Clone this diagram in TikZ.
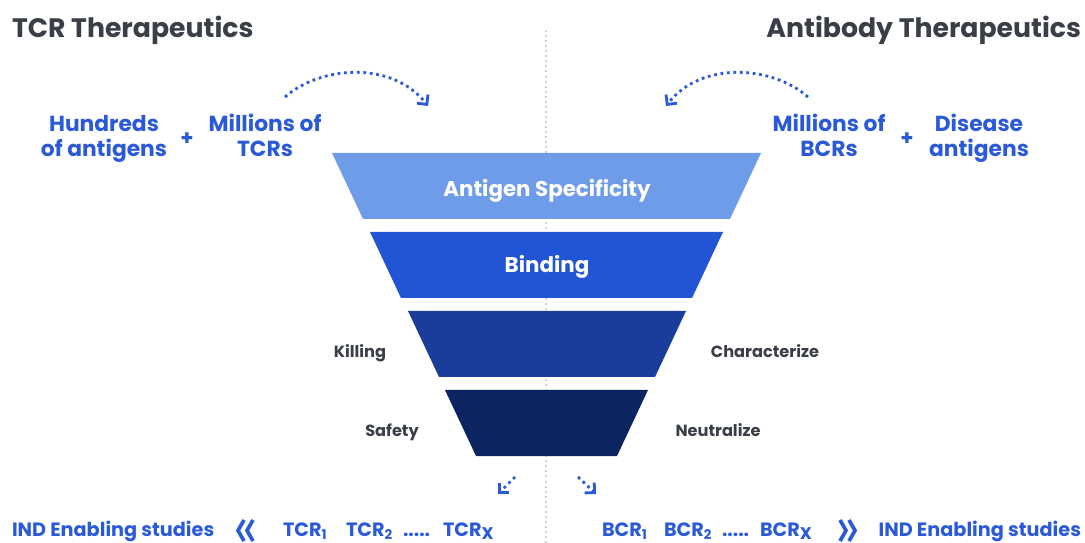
\documentclass[tikz,border=0pt]{standalone}
\usepackage{fontspec}
\setmainfont{Poppins}
\usetikzlibrary{arrows.meta}

\definecolor{ink}{HTML}{3A3E46}
\definecolor{accent}{HTML}{2A5AD8}
\definecolor{tierA}{HTML}{6E9CE8}
\definecolor{tierB}{HTML}{2254D6}
\definecolor{tierC}{HTML}{1A3D9B}
\definecolor{tierD}{HTML}{0D2462}
\definecolor{guide}{HTML}{D2D2D2}

% lowered index used in the receptor labels
\newcommand\lowidx[1]{\raisebox{-0.3ex}{\fontsize{9.5}{10}\selectfont #1}}

\begin{document}
\begin{tikzpicture}[x=0.025cm,y=-0.025cm,
  every node/.style={inner sep=0pt, outer sep=0pt},
  title/.style={font=\fontsize{19}{22}\selectfont\bfseries, text=ink, anchor=base},
  source/.style={font=\fontsize{15.5}{17.8}\selectfont\bfseries, text=accent, align=center, anchor=base},
  plus/.style={font=\fontsize{15}{18}\selectfont\bfseries, text=accent},
  stage/.style={font=\fontsize{15.2}{18}\selectfont\bfseries, text=white, anchor=base},
  side/.style={font=\fontsize{11.5}{14}\selectfont\bfseries, text=ink, anchor=base},
  foot/.style={font=\fontsize{13.7}{16}\selectfont\bfseries, text=accent, anchor=base},
  chevron/.style={accent, line width=2.6pt, miter limit=10},
  flow/.style={accent, line width=2pt, dash pattern=on 2pt off 2.6pt,
    -{Straight Barb[length=5pt, width=10pt, line width=2pt]}},
  divider/.style={guide, line width=1.4pt, dash pattern=on 1.4pt off 2.2pt},
]
\useasboundingbox (0,0) rectangle (1085,543);

% central divider, behind the funnel
\coordinate (divtop) at (546,30);
\coordinate (divbot) at (546,543);
\draw[divider] (divtop) -- (divbot);

% funnel tiers
\fill[tierA] (332,153) -- (761,153) -- (730,219) -- (363,219) -- cycle;
\fill[tierB] (370,232) -- (723,232) -- (692,298) -- (401,298) -- cycle;
\fill[tierC] (408,311) -- (686,311) -- (655,377) -- (439,377) -- cycle;
\fill[tierD] (445,390) -- (648,390) -- (617,456) -- (476,456) -- cycle;

\node[stage] (spec) at (547,197) {Antigen Specificity};
\node[stage] (bind) at (547,273) {Binding};

% side labels
\node[side] (kill) at (360,358) {Killing};
\node[side] (safe) at (392,436) {Safety};
\node[side] (char) at (765,358) {Characterize};
\node[side] (neut) at (718,436) {Neutralize};

% headings
\node[title, anchor=base west] (tcrhead) at (12,38) {TCR Therapeutics};
\node[title, anchor=base east] (abhead) at (1081,38) {Antibody Therapeutics};

% inputs (base anchor sits on the second line)
\node[source] (hundreds) at (104,157) {Hundreds\\of antigens};
\node[plus] (plusL) at (187,139) {+};
\node[source] (mtcr) at (265,157) {Millions of\\TCRs};
\node[source] (mbcr) at (829,157) {Millions of\\BCRs};
\node[plus] (plusR) at (907,139) {+};
\node[source] (disease) at (979,157) {Disease\\antigens};

% curved arrows into the funnel
\coordinate (la0) at (285,97);
\coordinate (la1) at (428,106);
\coordinate (ra0) at (808,97);
\coordinate (ra1) at (666,106);
\draw[flow] (la0) .. controls (320,66) and (392,60) .. (la1);
\draw[flow] (ra0) .. controls (773,66) and (702,60) .. (ra1);

% arrows out of the funnel
\coordinate (ol0) at (515,477);
\coordinate (ol1) at (498,494);
\coordinate (or0) at (578,477);
\coordinate (or1) at (596,494);
\draw[flow] (ol0) -- (ol1);
\draw[flow] (or0) -- (or1);

% bottom row, left
\node[foot, anchor=base west] (indL) at (12,536) {IND Enabling studies};
\draw[chevron] (244,520) -- (238,530.5) -- (244,541);
\draw[chevron] (253,520) -- (247,530.5) -- (253,541);
\node[foot, anchor=base west] (t1) at (283,536) {TCR\lowidx{1}};
\node[foot, anchor=base west] (t2) at (346,536) {TCR\lowidx{2}};
\node[foot, anchor=base west] (tdots) at (403,536) {.....};
\node[foot, anchor=base west] (tx) at (443,536) {TCR\lowidx{\fontsize{12}{12}\selectfont X}};

% bottom row, right
\node[foot, anchor=base west] (b1) at (602,536) {BCR\lowidx{1}};
\node[foot, anchor=base west] (b2) at (664,536) {BCR\lowidx{2}};
\node[foot, anchor=base west] (bdots) at (722,536) {.....};
\node[foot, anchor=base west] (bx) at (760,536) {BCR\lowidx{\fontsize{12}{12}\selectfont X}};
\draw[chevron] (840,520) -- (846,530.5) -- (840,541);
\draw[chevron] (849,520) -- (855,530.5) -- (849,541);
\node[foot, anchor=base east] (indR) at (1081,536) {IND Enabling studies};
\end{tikzpicture}
\end{document}
